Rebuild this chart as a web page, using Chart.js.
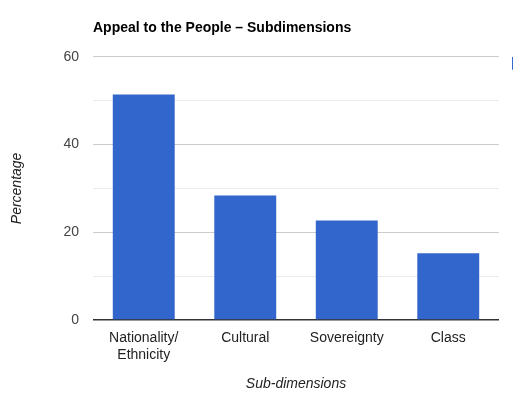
<!DOCTYPE html>
<html>
<head>
<meta charset="utf-8">
<script src="https://cdn.jsdelivr.net/npm/chart.js@4/dist/chart.umd.min.js"></script>
<style>
  html, body { margin: 0; padding: 0; background: #fff; overflow: hidden; }
  #wrap { width: 608px; height: 393px; }
</style>
</head>
<body>
<div id="wrap"><canvas id="grafica"></canvas></div>
<script>
// Datos de la gráfica
const categorias = [['Nationality/', 'Ethnicity'], 'Cultural', 'Sovereignty', 'Class'];
const porcentajes = [51.4, 28.4, 22.7, 15.2];
const marcasY = [0, 20, 40, 60];

const fuente = 'Arial, "Liberation Sans", sans-serif';

const ctx = document.getElementById('grafica').getContext('2d');
const grafica = new Chart(ctx, {
  type: 'bar',
  data: {
    labels: categorias,
    datasets: [{
      label: 'Percentage',
      data: porcentajes,
      backgroundColor: '#3366cc',
      borderWidth: 0,
      barPercentage: 0.61,
      categoryPercentage: 1
    }]
  },
  options: {
    responsive: true,
    maintainAspectRatio: false,
    animation: false,
    layout: { padding: { top: 20, left: 6, right: 0, bottom: 4 } },
    plugins: {
      title: {
        display: true,
        text: 'Appeal to the People – Subdimensions',
        align: 'start',
        fullSize: false,
        color: '#000',
        font: { family: fuente, size: 14, weight: 'bold' },
        padding: { top: 0, bottom: 20 }
      },
      legend: {
        display: true,
        position: 'right',
        align: 'start',
        fullSize: false,
        // título vacío para subir la muestra al borde superior del área
        title: { display: true, text: '', font: { size: 10 }, padding: { top: 0, bottom: -25 } },
        labels: {
          boxWidth: 13,
          boxHeight: 13,
          padding: 13,
          color: '#222',
          font: { family: fuente, size: 13 }
        }
      },
      tooltip: { enabled: false }
    },
    scales: {
      x: {
        grid: { display: false, drawTicks: false },
        border: { display: false },
        ticks: {
          color: '#222',
          font: { family: fuente, size: 14 },
          padding: 10,
          maxRotation: 0
        },
        title: {
          display: true,
          text: 'Sub-dimensions',
          color: '#222',
          font: { family: fuente, size: 14, style: 'italic' },
          padding: { top: 0, bottom: -4 }
        },
        afterFit: function(escala) { escala.height = 69; }
      },
      y: {
        min: 0,
        max: 60,
        ticks: {
          stepSize: 10,
          color: '#444',
          font: { family: fuente, size: 14 },
          padding: 14,
          callback: function(v) { return marcasY.includes(v) ? v : ''; }
        },
        grid: {
          drawTicks: false,
          color: function(c) {
            if (c.tick.value === 0) return '#333';
            return c.tick.value % 20 === 0 ? '#cccccc' : '#ebebeb';
          },
          lineWidth: function(c) { return c.tick.value === 0 ? 1.5 : 1; }
        },
        border: { display: false },
        title: {
          display: true,
          text: 'Percentage',
          color: '#222',
          font: { family: fuente, size: 14, style: 'italic' },
          padding: { top: 3 }
        },
        afterFit: function(escala) { escala.width = 87; }
      }
    }
  }
});
</script>
</body>
</html>
